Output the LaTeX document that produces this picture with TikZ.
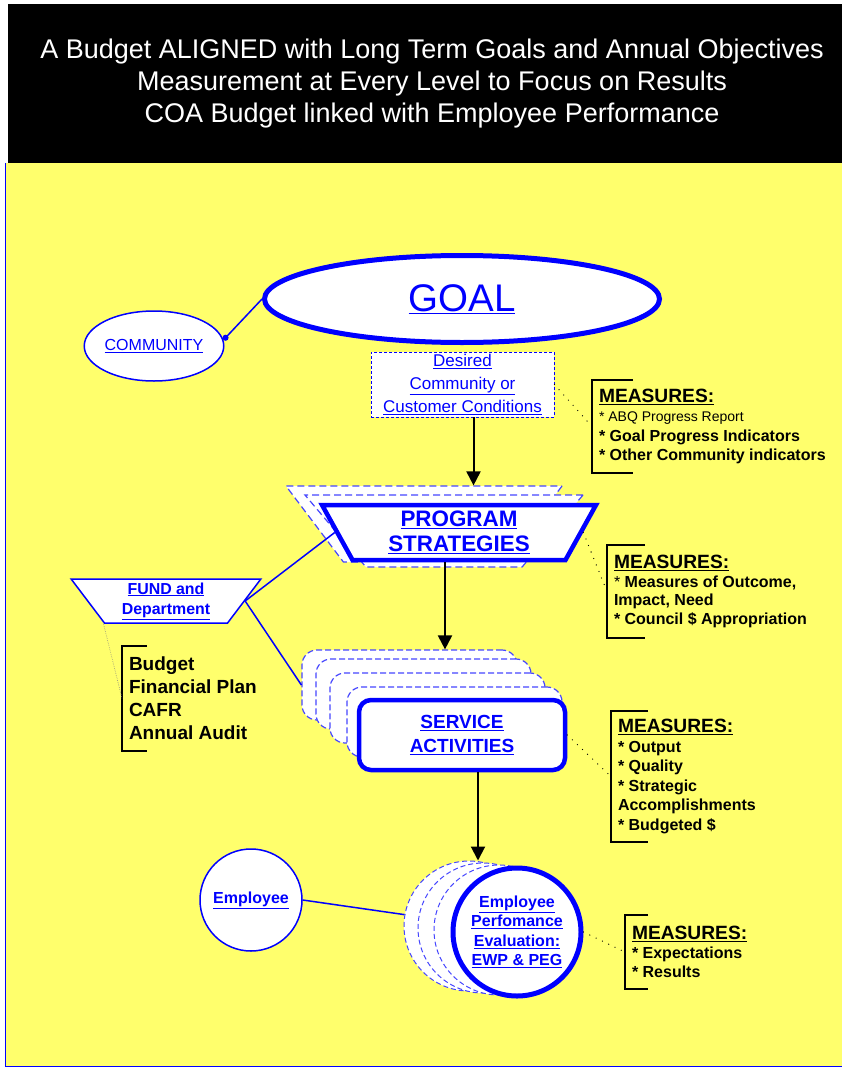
\documentclass[tikz,border=0pt]{standalone}
\usepackage{fontspec}
\setmainfont{Liberation Sans}
\usepackage{tikz}
\usetikzlibrary{shapes.geometric,arrows.meta}
\definecolor{pageyellow}{RGB}{255,255,108}
\definecolor{linkblue}{RGB}{0,0,255}
\definecolor{ghostblue}{RGB}{70,70,255}
\newcommand{\lnk}[1]{\underline{#1}}

\begin{document}
\begin{tikzpicture}[
        x=1pt, y=-1pt,
        title/.style={text=white, align=center, font=\fontsize{27}{32}\selectfont},
        oval/.style={ellipse, draw=linkblue, line width=1.5pt, fill=white, text=linkblue, inner sep=0pt},
        trap/.style={trapezium, shape border rotate=180, trapezium stretches=true, trapezium left angle=#1, trapezium right angle=#1, draw=linkblue, fill=white, align=center, text=linkblue, inner sep=1pt},
        ghosttrap/.style={trap=#1, draw=ghostblue, line width=1.2pt, dash pattern=on 7pt off 4pt},
        card/.style={rectangle, rounded corners=15pt, draw=ghostblue, line width=1.2pt, dash pattern=on 6pt off 3pt, fill=white, minimum width=215pt, minimum height=70pt},
        ghostcirc/.style={circle, draw=ghostblue, line width=1pt, dash pattern=on 5pt off 3pt, fill=white, minimum size=130pt},
        measures/.style={anchor=west, align=left, inner xsep=7pt, inner ysep=0pt, outer sep=0pt, font=\fontsize{16}{19.5}\selectfont\bfseries},
        bracket/.style={line width=1.5pt},
        flow/.style={-{Triangle[length=14pt,width=14pt]}, line width=2pt},
        link/.style={draw=linkblue, line width=1.5pt},
        dots/.style={line width=1.3pt, line cap=round, dash pattern=on 0pt off 7pt},
        finline/.style={gray, line width=0.6pt, dash pattern=on 0.6pt off 1.2pt}
    ]
        \useasboundingbox (0,0) rectangle (842,1068);
        \fill[black] (8,4) rectangle (842,163);
        \fill[pageyellow] (5,163) rectangle (842,1066);
        \draw[linkblue, line width=1pt] (5,163) -- (5,1066) -- (842,1066);

        \node[title] (head) at (432,84) {A Budget ALIGNED with Long Term Goals and Annual Objectives\\Measurement at Every Level to Focus on Results\\COA Budget linked with Employee Performance};

        \node[oval, line width=5pt, minimum width=395pt, minimum height=87pt, font=\fontsize{38.5}{40}\selectfont] (goal) at (462,299) {\lnk{GOAL}};
        \node[oval, minimum width=136pt, minimum height=70pt, font=\fontsize{16}{16}\selectfont] (comm) at (154,346) {\lnk{COMMUNITY}};
        \node[draw=linkblue, dash pattern=on 3pt off 2pt, line width=0.8pt, fill=white, minimum width=183pt, minimum height=65pt, inner sep=0pt, align=center, text=linkblue, font=\fontsize{17}{23}\selectfont] (desired) at (462.5,384.5) {\lnk{Desired}\\\lnk{Community or}\\\lnk{Customer Conditions}};

        \node[ghosttrap=70.4, minimum width=276pt, minimum height=76pt] (prog1) at (424,524) {};
        \node[ghosttrap=68.7, minimum width=278pt, minimum height=72pt] (prog2) at (444,531) {};
        \node[trap=65.4, line width=4.5pt, minimum width=274pt, minimum height=55pt, font=\fontsize{22.4}{25}\selectfont\bfseries] (prog) at (459,532.5) {\lnk{PROGRAM}\\\lnk{STRATEGIES}};

        \node[trap=57.8, line width=1.5pt, minimum width=190pt, minimum height=44pt, font=\fontsize{15.9}{20}\selectfont\bfseries] (fund) at (166,601) {\lnk{FUND and}\\\lnk{Department}};

        \foreach \cx/\cy [count=\i] in {409.5/685, 423.5/694, 437.5/708, 454.5/722}
            \node[card] (card\i) at (\cx,\cy) {};
        \node[rectangle, rounded corners=12pt, draw=linkblue, line width=4.5pt, fill=white, minimum width=206pt, minimum height=70pt, align=center, text=linkblue, font=\fontsize{19}{24}\selectfont\bfseries] (svc) at (462,735) {\lnk{SERVICE}\\\lnk{ACTIVITIES}};

        \node[circle, draw=linkblue, line width=1.5pt, fill=white, minimum size=102pt, text=linkblue, font=\fontsize{16}{16}\selectfont\bfseries] (emp) at (251,900) {\lnk{Employee}};
        \foreach \cx/\cy [count=\i] in {469/926, 483/928, 499/930}
            \node[ghostcirc] (epe\i) at (\cx,\cy) {};
        \node[circle, draw=linkblue, line width=5pt, fill=white, minimum size=128pt, inner sep=0pt, align=center, text=linkblue, font=\fontsize{16}{19.5}\selectfont\bfseries] (epe) at (517,932) {\lnk{Employee}\\\lnk{Perfomance}\\\lnk{Evaluation:}\\\lnk{EWP \& PEG}};

        \node[measures, minimum height=93pt] (ms1) at (592,426.5) {{\fontsize{19.2}{22}\selectfont\lnk{MEASURES:}}\\{\mdseries\fontsize{14}{19.5}\selectfont * ABQ Progress Report}\\* Goal Progress Indicators\\* Other Community indicators};
        \node[measures, minimum height=93pt, font=\fontsize{16}{18.5}\selectfont\bfseries] (ms2) at (607,591.5) {{\fontsize{19.2}{22}\selectfont\lnk{MEASURES:}}\\{\mdseries *} Measures of Outcome,\\Impact, Need\\* Council \$ Appropriation};
        \node[measures, minimum height=131pt] (ms3) at (611,776.5) {{\fontsize{19.2}{22}\selectfont\lnk{MEASURES:}}\\* Output\\* Quality\\* Strategic\\Accomplishments\\* Budgeted \$};
        \node[measures, minimum height=74pt, font=\fontsize{16}{19}\selectfont\bfseries] (ms4) at (625,952) {{\fontsize{19.2}{22}\selectfont\lnk{MEASURES:}}\\* Expectations\\* Results};
        \node[measures, minimum height=105pt, font=\fontsize{19}{23}\selectfont\bfseries] (fin) at (122,698.5) {Budget\\Financial Plan\\CAFR\\Annual Audit};

        \foreach \m/\w in {ms1/41, ms2/38, ms3/37, ms4/23, fin/25}
            \draw[bracket] ([xshift=\w pt]\m.north west) -- (\m.north west) -- (\m.south west) -- ([xshift=\w pt]\m.south west);

        \draw[link, {Circle[length=6pt,width=6pt]}-] (comm.5) -- (goal.west);
        \draw[link] (fund.0) -- (prog.180);
        \draw[link] (fund.0) -- (card1.west);
        \draw[link] (emp.east) -- (epe1.170);
        \draw[finline] (fund.199) -- (fin.west);

        \coordinate (a1) at ([xshift=11pt]desired.south);
        \coordinate (a2) at ([xshift=-14pt]prog.270);
        \coordinate (a3) at ([xshift=16pt]svc.south);
        \draw[flow] (a1) -- (a1 |- prog1.90);
        \draw[flow] (a2) -- (a2 |- card1.north);
        \draw[flow] (a3) -- (a3 |- epe1.north);

        \draw[dots] (desired.east) -- (ms1.west);
        \draw[dots] (prog.0) -- (ms2.west);
        \draw[dots] (svc.east) -- (ms3.west);
        \draw[dots] (epe.east) -- (ms4.west);
    \end{tikzpicture}
\end{document}
